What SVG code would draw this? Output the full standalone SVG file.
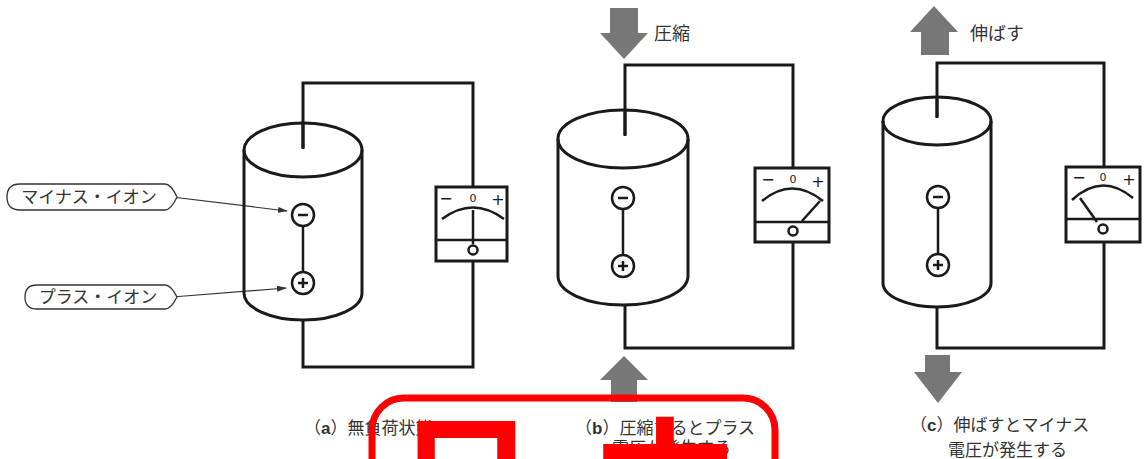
<svg xmlns="http://www.w3.org/2000/svg" width="1147" height="459" viewBox="0 0 1147 459">
  <style>
    .body { fill: none; stroke: #1a1a1a; stroke-width: 3; }
    .wire { fill: none; stroke: #1a1a1a; stroke-width: 3; stroke-linejoin: miter; }
    .meter { fill: #fff; stroke: #1a1a1a; stroke-width: 3; }
    .thin { fill: none; stroke: #1a1a1a; stroke-width: 2.5; }
    .ion { fill: #fff; stroke: #1a1a1a; stroke-width: 2.5; }
    .push { fill: #777; }
    .jp { font-family: "Noto Sans CJK JP", "Noto Sans", sans-serif; fill: #333; }
    .cap { font-size: 17px; }
    .scale { font-family: "DejaVu Sans", sans-serif; font-size: 16px; fill: #1a1a1a; text-anchor: middle; }
    .zero { font-family: "DejaVu Sans", sans-serif; font-size: 11px; fill: #1a1a1a; text-anchor: middle; }
    .tag { fill: #fff; stroke: #333; stroke-width: 1.3; }
    .lead { fill: none; stroke: #333; stroke-width: 1.2; }
    .seal { fill: none; stroke: #ff0000; stroke-width: 7; }
    .sealtxt { font-family: "Noto Sans CJK JP", sans-serif; font-weight: 700; font-size: 140px; fill: #ff0000; text-anchor: middle; }
  </style>
  <defs>
    <marker id="tip" markerWidth="10" markerHeight="6" refX="9" refY="3" orient="auto" markerUnits="userSpaceOnUse">
      <path d="M0,0 L10,3 L0,6 Z" fill="#333"/>
    </marker>
    <!-- ion pair inside a cylinder -->
    <g id="ions">
      <line x1="0" y1="0" x2="0" y2="68" class="thin"/>
      <circle cx="0" cy="0" r="11" class="ion"/>
      <line x1="-5" y1="0" x2="5" y2="0" class="thin" stroke-width="3"/>
      <circle cx="0" cy="68" r="11" class="ion"/>
      <line x1="-5" y1="68" x2="5" y2="68" class="thin" stroke-width="3"/>
      <line x1="0" y1="63" x2="0" y2="73" class="thin" stroke-width="3"/>
    </g>
  </defs>

  <rect width="1147" height="459" fill="#fff"/>

  <!-- connectors: circuit wires and label leaders -->
  <g id="connectors">
    <path class="wire" d="M303,148 V83 H473 V187"/>
    <path class="wire" d="M473,261 V367 H303 V320"/>
    <path class="wire" d="M625,135 V65 H793 V168"/>
    <path class="wire" d="M793,242 V348 H625 V305"/>
    <path class="wire" d="M937,117 V63 H1104 V167"/>
    <path class="wire" d="M1104,242 V348 H937 V307"/>
    <path class="lead" d="M172,197 L287,211" marker-end="url(#tip)"/>
    <path class="lead" d="M172,297 L286,288" marker-end="url(#tip)"/>
  </g>

  <!-- (a) unloaded -->
  <g id="cylinder-a">
    <path class="body" d="M244,150 V293 A59,27 0 0 0 362,293 V150"/>
    <ellipse class="body" cx="303" cy="150" rx="59" ry="27"/>
    <line class="wire" x1="303" y1="123" x2="303" y2="149"/>
    <use href="#ions" x="303" y="215"/>
  </g>
  <g id="meter-a">
    <rect class="meter" x="436" y="187" width="71" height="74"/>
    <line class="thin" x1="436" y1="240" x2="507" y2="240" stroke-width="3"/>
    <text class="scale" x="446" y="204">−</text>
    <text class="zero" x="473" y="202">0</text>
    <text class="scale" x="498" y="205">+</text>
    <path class="thin" d="M442,219 Q473,196 504,219"/>
    <line class="thin" x1="473" y1="210" x2="473" y2="244"/>
    <circle cx="473" cy="250" r="4.5" fill="#fff" stroke="#1a1a1a" stroke-width="2.5"/>
  </g>
  <g id="tag-minus">
    <path class="tag" d="M20,184 H165 Q171,184 177,197 Q171,210 165,210 H20 Q7,210 7,197 Q7,184 20,184 Z"/>
    <text class="jp" x="89" y="203" font-size="17" text-anchor="middle">マイナス・イオン</text>
  </g>
  <g id="tag-plus">
    <path class="tag" d="M37,285 H165 Q171,285 177,297 Q171,309 165,309 H37 Q25,309 25,297 Q25,285 37,285 Z"/>
    <text class="jp" x="98" y="303" font-size="17" text-anchor="middle">プラス・イオン</text>
  </g>
  <g id="caption-a">
    <text class="jp cap" x="304" y="434">（<tspan font-family="Liberation Sans, sans-serif" font-weight="bold">a</tspan>）無負荷状態</text>
  </g>

  <!-- (b) compressed -->
  <g id="press-b">
    <path class="push" d="M610,8 H638 V33 H648 L624,59 L600,33 H610 Z"/>
    <text class="jp" x="654" y="40" font-size="18">圧縮</text>
    <path class="push" d="M624,356 L648,380 H637 V402 H611 V380 H600 Z"/>
  </g>
  <g id="cylinder-b">
    <path class="body" d="M558,139 V276 A65,29 0 0 0 688,276 V139"/>
    <ellipse class="body" cx="623" cy="139" rx="65" ry="29"/>
    <line class="wire" x1="625" y1="110" x2="625" y2="136"/>
    <use href="#ions" x="623" y="198"/>
  </g>
  <g id="meter-b">
    <rect class="meter" x="755" y="168" width="74" height="74"/>
    <line class="thin" x1="755" y1="222" x2="829" y2="222" stroke-width="3"/>
    <text class="scale" x="768" y="185">−</text>
    <text class="zero" x="793" y="183">0</text>
    <text class="scale" x="818" y="187">+</text>
    <path class="thin" d="M762,201 Q792,176 823,201"/>
    <line class="thin" x1="802" y1="221" x2="820" y2="201"/>
    <circle cx="793" cy="231" r="4.5" fill="#fff" stroke="#1a1a1a" stroke-width="2.5"/>
  </g>
  <g id="caption-b">
    <text class="jp cap" x="575" y="434">（<tspan font-family="Liberation Sans, sans-serif" font-weight="bold">b</tspan>）圧縮するとプラス</text>
    <text class="jp cap" x="612" y="454">電圧が発生する</text>
  </g>

  <!-- (c) stretched -->
  <g id="pull-c">
    <path class="push" d="M934,6 L958,32 H949 V55 H921 V32 H910 Z"/>
    <text class="jp" x="970" y="40" font-size="18">伸ばす</text>
    <path class="push" d="M925,355 H950 V372 H962 L938,403 L914,372 H925 Z"/>
  </g>
  <g id="cylinder-c">
    <path class="body" d="M883,121 V283 A54,24 0 0 0 991,283 V121"/>
    <ellipse class="body" cx="937" cy="121" rx="54" ry="24"/>
    <line class="wire" x1="937" y1="97" x2="937" y2="118"/>
    <use href="#ions" x="938" y="197"/>
  </g>
  <g id="meter-c">
    <rect class="meter" x="1066" y="167" width="74" height="75"/>
    <line class="thin" x1="1066" y1="219" x2="1140" y2="219" stroke-width="3"/>
    <text class="scale" x="1079" y="183">−</text>
    <text class="zero" x="1103" y="181">0</text>
    <text class="scale" x="1129" y="185">+</text>
    <path class="thin" d="M1072,200 Q1102,172 1133,198"/>
    <line class="thin" x1="1080" y1="198" x2="1097" y2="222"/>
    <circle cx="1103" cy="229" r="4.5" fill="#fff" stroke="#1a1a1a" stroke-width="2.5"/>
  </g>
  <g id="caption-c">
    <text class="jp cap" x="910" y="431">（<tspan font-family="Liberation Sans, sans-serif" font-weight="bold">c</tspan>）伸ばすとマイナス</text>
    <text class="jp cap" x="948" y="456">電圧が発生する</text>
  </g>

  <!-- red seal over the bottom edge -->
  <g id="seal">
    <rect class="seal" x="372" y="398" width="403" height="140" rx="32"/>
    <text class="sealtxt" x="466" y="532">日</text>
    <text class="sealtxt" x="665" y="536">本</text>
  </g>
</svg>
